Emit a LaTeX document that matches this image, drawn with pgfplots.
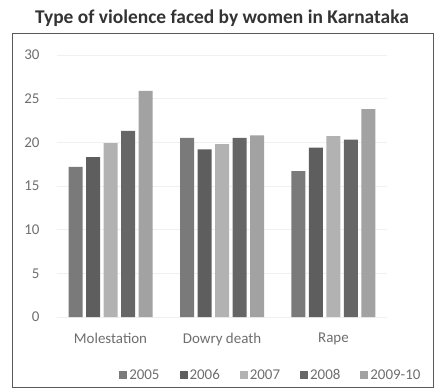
\documentclass[border=0pt]{standalone}
\usepackage{fontspec}
\setmainfont{Carlito}
\usepackage{pgfplots}
\pgfplotsset{compat=1.18}

\definecolor{cA}{HTML}{7A7A7A}
\definecolor{cB}{HTML}{5E5E5E}
\definecolor{cC}{HTML}{B2B2B2}
\definecolor{cD}{HTML}{666666}
\definecolor{cE}{HTML}{A2A2A2}
\definecolor{txt}{HTML}{6E6E6E}

\begin{document}
\begin{tikzpicture}
\begin{axis}[
  scale only axis,
  width=330bp, height=262bp,
  xmin=-0.48, xmax=2.48,
  ymin=0, ymax=30,
  enlargelimits=false,
  clip=false,
  ybar=3.5bp,
  bar width=14bp,
  xtick={0,1,2},
  xticklabels={Molestation, Dowry death, Rape},
  ytick={0,5,10,15,20,25,30},
  axis line style={draw=none},
  major tick style={draw=none},
  ymajorgrids,
  grid style={gray!12},
  tick label style={font=\fontsize{15}{18}\selectfont, text=txt},
  xticklabel style={yshift=-8bp},
  yticklabel style={xshift=-14bp},
  /pgf/number format/assume math mode=true,
  legend style={
    draw=none, fill=none,
    at={(axis description cs:0.648,-0.222)}, anchor=center,
    font=\fontsize{15}{18}\selectfont, text=txt,
    /tikz/every even column/.append style={column sep=18bp},
  },
  legend columns=-1,
  legend image code/.code={\fill[#1,draw=none] (0bp,-4bp) rectangle (8bp,4bp);},
]
\addplot[fill=cA, draw=none] coordinates {(0,17.2) (1,20.5) (2,16.7)};
\addplot[fill=cB, draw=none] coordinates {(0,18.3) (1,19.2) (2,19.4)};
\addplot[fill=cC, draw=none] coordinates {(0,19.9) (1,19.8) (2,20.7)};
\addplot[fill=cD, draw=none] coordinates {(0,21.3) (1,20.5) (2,20.3)};
\addplot[fill=cE, draw=none] coordinates {(0,25.9) (1,20.8) (2,23.8)};
\legend{2005, 2006, 2007, 2008, 2009-10}

% outer chart frame and title
\draw[gray!70!black, line width=0.8bp]
  ([xshift=-45bp,yshift=-70bp]rel axis cs:0,0) rectangle ([xshift=376bp,yshift=284bp]rel axis cs:0,0);
\node[font=\fontsize{19.5}{22}\selectfont\bfseries, text=black!80, anchor=center]
  at ([xshift=165bp,yshift=299bp]rel axis cs:0,0) {Type of violence faced by women in Karnataka};
\path ([xshift=-57bp,yshift=-74bp]rel axis cs:0,0) rectangle ([xshift=378bp,yshift=317bp]rel axis cs:0,0);
\end{axis}
\end{tikzpicture}
\end{document}
